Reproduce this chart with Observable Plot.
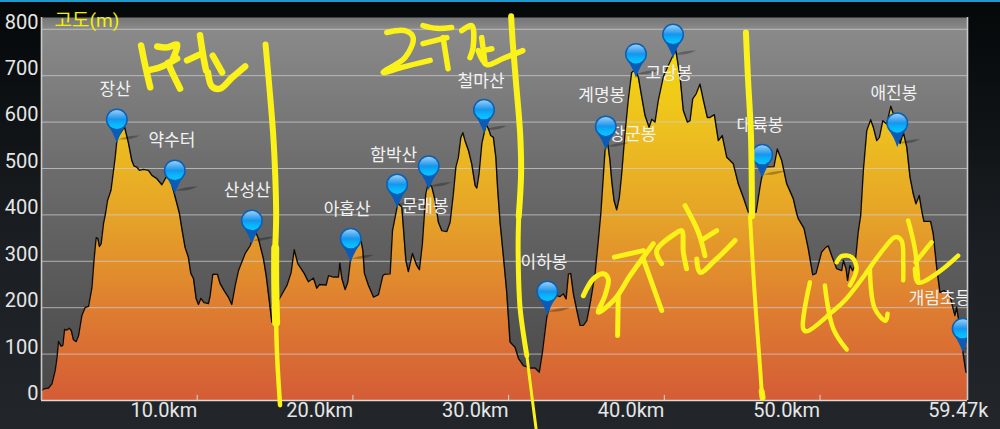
<!DOCTYPE html>
<html lang="ko"><head><meta charset="utf-8">
<style>
html,body{margin:0;padding:0;width:1000px;height:429px;overflow:hidden;
background:linear-gradient(#1c9ad0 0,#1c9ad0 2px,#050808 2px,#0a0d0f 60px,#1b1f23 250px,#22262a 429px);}
svg{display:block}
</style>
<script src="https://cdn.jsdelivr.net/npm/d3@7"></script>
<script src="https://cdn.jsdelivr.net/npm/@observablehq/plot@0.6"></script>
</head><body><div id="chart"></div>
<script>
// Elevation profile: distance (km) and altitude (m)
const profileKm = [0.03,0.13,0.45,0.67,0.88,0.99,1.09,1.26,1.37,1.48,1.63,1.78,1.91,2.05,2.23,2.38,2.59,2.81,3.02,3.24,3.38,3.51,3.62,3.72,3.83,3.98,4.11,4.24,4.46,4.73,4.86,5.10,5.33,5.59,5.80,5.95,6.12,6.29,6.55,6.87,7.09,7.41,7.73,7.99,8.26,8.47,8.69,8.86,9.01,9.22,9.43,9.59,9.76,9.93,10.08,10.23,10.44,10.72,10.83,11.00,11.30,11.47,11.73,12.00,12.22,12.44,12.65,13.08,13.40,13.72,13.93,14.25,14.43,14.64,14.79,15.11,15.22,15.76,16.03,16.23,16.46,16.87,17.14,17.46,17.68,17.85,18.28,18.43,18.75,19.07,19.16,19.29,19.50,19.67,19.84,20.14,20.53,20.64,20.74,21.00,21.32,21.64,21.92,22.02,22.39,22.54,22.71,22.88,23.14,23.24,23.40,23.56,23.82,24.10,24.27,24.46,24.68,24.85,25.07,25.28,25.49,25.71,26.03,26.24,26.45,26.61,26.77,26.93,27.06,27.20,27.42,27.63,27.85,27.96,28.10,28.28,28.55,28.70,28.85,29.02,29.18,29.30,29.41,29.45,29.66,29.88,30.09,30.41,30.63,30.95,31.38,31.70,31.97,32.17,32.45,32.77,33.09,33.30,33.51,33.69,33.84,33.99,34.16,34.38,34.59,34.80,35.02,35.27,35.55,35.76,35.92,36.19,36.34,36.51,36.62,36.77,36.94,37.11,37.26,37.47,37.68,37.90,38.12,38.33,38.55,38.76,39.02,39.19,39.40,39.61,39.93,40.25,40.73,41.01,41.22,41.48,41.65,41.82,42.04,42.29,42.51,42.76,42.93,43.21,43.47,43.72,44.01,44.43,44.75,45.07,45.39,45.89,46.14,46.36,47.04,47.25,47.54,47.86,48.28,48.50,48.60,48.97,49.24,49.53,49.74,50.10,50.36,50.53,50.75,51.07,51.39,51.50,51.67,51.77,51.92,52.09,52.24,52.45,52.61,52.78,53.00,53.25,53.42,53.64,53.81,54.03,54.28,54.54,54.71,54.95,55.14,55.35,55.57,55.78,55.99,56.16,56.37,56.53,56.67,57.10,57.27,57.49,57.70,57.96,58.34,58.66,58.77,58.98,59.19,59.37,59.47];
const profileM = [22,25,27,36,65,91,127,117,119,153,152,156,151,131,127,140,183,201,203,244,306,351,349,332,338,381,403,431,453,524,567,578,590,554,517,505,503,496,498,496,485,478,465,481,478,453,425,403,371,330,309,274,263,220,207,220,211,209,226,272,272,252,237,223,207,248,280,317,334,366,349,306,269,212,169,168,216,248,276,325,295,274,256,264,242,250,249,269,266,266,296,263,239,255,302,338,343,323,274,248,223,228,269,272,273,366,395,425,417,373,302,278,317,291,282,338,446,470,460,431,384,366,364,384,446,503,524,567,577,560,539,510,463,458,489,554,595,586,571,567,524,453,403,384,312,233,126,115,91,75,70,70,61,104,180,220,226,224,230,219,273,274,230,194,162,162,172,216,274,345,403,539,560,517,474,431,411,438,489,575,647,707,713,697,654,614,589,606,600,647,697,722,756,697,625,600,603,650,661,682,647,610,610,616,560,571,524,510,467,438,406,406,460,503,504,542,517,467,435,403,392,371,328,271,274,320,330,333,312,284,280,302,284,259,291,280,291,363,399,496,582,605,589,560,567,603,596,634,618,599,554,578,546,481,445,424,442,409,386,386,359,287,233,237,226,183,201,158,101,61,60];

// Waypoints: name, pin position, label position
const wpName = ["장산","약수터","산성산","아홉산","함박산","문래봉","철마산","이하봉","계명봉","장군봉","고당봉","대륙봉","애진봉","개림초등"];
const pinKm  = [4.84,8.56,13.51,19.86,22.84,24.87,28.42,32.49,38.18,36.24,40.56,46.29,54.96,59.16];
const pinM   = [554,444,336,297,414,453,575,183,695,539,737,478,546,103];
const labelKm = [4.73,8.37,13.21,19.63,22.62,24.64,28.23,32.27,35.98,37.99,40.30,46.14,54.74,57.70];
const labelM  = [670,560,453,412,528,418,687,297,657,574,705,593,662,220];

const yTicks = [0,100,200,300,400,500,600,700,800];
const xTicks = [10,20,30,40,50];
const xEnd = 59.47;

// Hand-drawn yellow annotations, as [km, m] along each pen stroke
const dividerStrokes = [
  {w: 6,   pts: [[14.39,767],[14.62,681],[14.88,573],[15.01,487],[15.07,397],[15.01,328]]},
  {w: 8,   pts: [[15.01,328],[15.01,254],[15.07,168]]},
  {w: 4.5, pts: [[15.07,168],[15.13,97],[15.32,-10]]},
  {w: 6,   pts: [[30.16,828],[30.27,769],[30.48,683],[30.74,575],[30.80,489],[30.65,397]]},
  {w: 5,   pts: [[30.65,397],[30.61,326],[30.74,198],[31.17,97]]},
  {w: 3,   pts: [[31.17,97],[31.38,39],[31.76,-60]]},
  {w: 6,   pts: [[45.24,793],[45.37,696],[45.56,575],[45.63,397]]},
  {w: 4,   pts: [[45.50,397],[45.82,220],[46.14,75],[46.25,20]]},
  {w: 6,   pts: [[46.25,20],[46.31,6]]}
];
const firstSection = [
  [[6.40,765],[6.66,722],[6.98,675]],
  [[7.43,763],[8.07,761],[8.71,767],[8.39,733]],
  [[6.79,711],[7.62,718],[8.71,737]],
  [[8.13,728],[8.39,707],[8.90,672]],
  [[9.35,733],[10.18,746]],
  [[10.18,787],[10.40,740],[10.57,711]],
  [[11.00,743],[11.60,707]],
  [[10.69,707],[10.94,677],[11.47,672],[12.24,696],[13.08,720]]
];
const secondSection = [
  [[22.18,793],[23.35,797],[23.87,782],[23.35,739],[21.94,707],[23.14,718],[24.96,733]],
  [[24.50,808],[25.40,802],[26.34,804]],
  [[24.50,769],[26.03,782]],
  [[25.79,782],[26.11,715]],
  [[26.99,797],[27.63,808],[27.72,761],[27.52,739]],
  [[28.27,782],[28.49,726]],
  [[28.36,754],[28.92,758]],
  [[28.04,754],[28.60,724],[29.64,737],[30.91,754]]
];
const thirdSection = [
  [[34.80,226],[35.44,262],[36.09,273],[36.40,262],[36.19,226],[35.76,190],[36.83,219],[37.80,269],[39.29,338]],
  [[36.79,309],[38.65,323]],
  [[37.04,226],[37.00,140]],
  [[38.65,305],[39.83,194]],
  [[39.83,295],[39.51,323],[40.68,359],[41.11,366],[41.22,320],[41.43,284]],
  [[41.33,420],[42.18,363],[42.61,312]],
  [[42.50,348],[43.36,366]],
  [[42.08,305],[42.29,276],[43.25,302],[44.54,345]]
];
const fourthSection = [
  [[49.35,255],[48.92,155],[49.14,149],[50.74,190],[51.60,216],[53.31,291]],
  [[50.31,248],[50.85,155],[51.71,110]],
  [[51.07,298],[51.39,311],[52.03,309],[52.35,284],[51.92,248]],
  [[52.99,276],[54.17,330],[54.81,352],[55.23,345],[55.34,298],[55.34,259]],
  [[53.20,284],[53.52,198],[54.21,172],[54.34,187]],
  [[55.66,388],[56.09,327],[56.30,259]],
  [[56.09,284],[56.30,254],[57.59,276],[58.87,312]],
  [[56.13,298],[57.16,341]]
];
const writingWidths = [6.5, 5.5, 5, 4.5];

const profile = profileKm.map((km, i) => ({km, m: profileM[i]}));
const pins = wpName.map((name, i) => ({name, km: pinKm[i], m: pinM[i], lkm: labelKm[i], lm: labelM[i]}));
const toPts = (strokes, tag, w) => strokes.flatMap((s, i) => s.map(([km, m]) => ({km, m, id: tag + i, w})));
const dividers = dividerStrokes.flatMap((s, i) => s.pts.map(([km, m]) => ({km, m, id: "d" + i, w: s.w})));
const writing = [firstSection, secondSection, thirdSection, fourthSection].flatMap((sec, i) => toPts(sec, "s" + i + "-", writingWidths[i]));

// Pin shapes, drawn with the tip at the data point
const circlePath = (c, cy, r) => { c.moveTo(r, cy); c.arc(0, cy, r, 0, 2 * Math.PI); };
const symShadow = {draw(c) { c.moveTo(1, -4); c.quadraticCurveTo(10, -8, 23, -8); c.quadraticCurveTo(14, -3, 1, -4); c.closePath(); }};
const symTip = {draw(c) { c.moveTo(0, 0); c.quadraticCurveTo(-3, -10, -9, -18); c.lineTo(9, -18); c.quadraticCurveTo(3, -10, 0, 0); c.closePath(); }};
const symRim = {draw(c) { circlePath(c, -24, 11); }};
const symBall = {draw(c) { circlePath(c, -24, 9.5); }};

const defs = () => {
  const d = d3.create("svg:defs");
  const stops = (g, arr) => arr.forEach(([o, col]) => g.append("stop").attr("offset", o).attr("stop-color", col));
  stops(d.append("linearGradient").attr("id", "bg").attr("x1", 0).attr("x2", 0).attr("y1", 0).attr("y2", 1),
    [[0, "#757575"], [0.03, "#8a8a8a"], [0.4, "#6c6c6c"], [0.75, "#565656"], [1, "#484848"]]);
  stops(d.append("linearGradient").attr("id", "ground").attr("gradientUnits", "userSpaceOnUse")
      .attr("x1", 0).attr("x2", 0).attr("y1", 50).attr("y2", 400),
    [[0, "#f4d80f"], [0.25, "#ecbd20"], [0.5, "#e5a029"], [0.72, "#df8030"], [1, "#d45c36"]]);
  stops(d.append("linearGradient").attr("id", "ball").attr("x1", 0).attr("x2", 0).attr("y1", 0).attr("y2", 1),
    [[0, "#9ad0f5"], [0.3, "#4aaaf0"], [0.5, "#1496ee"], [0.75, "#08b6fc"], [1, "#0ac4ff"]]);
  return d.node();
};

const ink = "#e6e6e6";
const yellow = "#fbf21a";
const plot = Plot.plot({
  width: 1000, height: 429,
  marginLeft: 41, marginRight: 33, marginTop: 17, marginBottom: 29,
  style: {background: "transparent", fontFamily: "Roboto, 'Noto Sans CJK KR', sans-serif", overflow: "visible"},
  x: {domain: [0, xEnd]},
  y: {domain: [0, 825.4]},
  marks: [
    defs,
    Plot.frame({fill: "url(#bg)"}),
    Plot.areaY(profile, {x: "km", y: "m", fill: "url(#ground)"}),
    Plot.ruleY(yTicks.slice(1), {stroke: "#cfcfcf", strokeOpacity: 0.75, strokeWidth: 1}),
    Plot.lineY(profile, {x: "km", y: "m", stroke: "#0c0c0c", strokeWidth: 1.4}),
    Plot.ruleY([0], {stroke: "#d8d8d8", strokeWidth: 1.6}),
    Plot.ruleX([0, xEnd], {stroke: "#c8c8c8", strokeWidth: 1.6}),
    Plot.ruleX(xTicks, {y1: 0, y2: 11, stroke: "#d8d8d8", strokeWidth: 1}),
    Plot.axisY({ticks: yTicks, tickSize: 0, tickPadding: 3, fontSize: 20, color: ink, dy: -7, label: null}),
    Plot.axisX({ticks: xTicks, tickSize: 0, tickPadding: 2, fontSize: 20, color: ink, textAnchor: "end", tickFormat: d => d.toFixed(1) + "km", label: null}),
    Plot.axisX({ticks: [xEnd], tickSize: 0, tickPadding: 2, fontSize: 20, color: ink, textAnchor: "end", dx: 21, tickFormat: () => "59.47k", label: null}),
    Plot.text(["고도(m)"], {frameAnchor: "top-left", dx: 13, dy: -4, fill: "#f4f000", fontSize: 19, textAnchor: "start"}),
    Plot.dot(pins, {x: "km", y: "m", symbol: symShadow, r: 5, fill: "#000", fillOpacity: 0.28, clip: true}),
    Plot.text(pins, {x: "lkm", y: "lm", text: "name", fill: "#f2f2f2", fontSize: 17, clip: true}),
    Plot.dot(pins, {x: "km", y: "m", symbol: symTip, r: 5, fill: "#0a5cb8", clip: true}),
    Plot.dot(pins, {x: "km", y: "m", symbol: symRim, r: 5, fill: "#0b5fb4", clip: true}),
    Plot.dot(pins, {x: "km", y: "m", symbol: symBall, r: 5, fill: "url(#ball)", clip: true}),
    Plot.line(dividers, {x: "km", y: "m", z: "id", stroke: yellow, strokeWidth: "w", curve: "catmull-rom"}),
    Plot.line(writing, {x: "km", y: "m", z: "id", stroke: yellow, strokeWidth: "w", curve: "catmull-rom"})
  ]
});
document.getElementById("chart").appendChild(plot);
</script>
</body></html>
